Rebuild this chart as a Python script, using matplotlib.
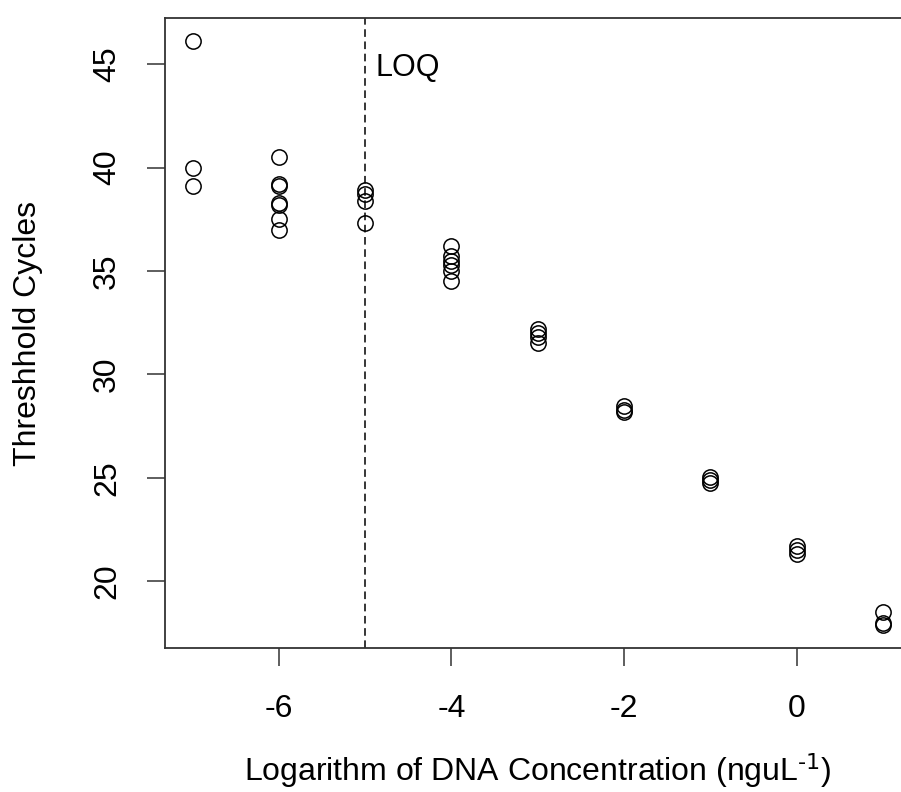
import matplotlib
matplotlib.use('Agg')
import matplotlib.pyplot as plt

plt.rcParams['font.family'] = ['Liberation Sans', 'DejaVu Sans']
plt.rcParams['mathtext.default'] = 'regular'

# log10 DNA concentration for each group of replicates
log_conc = [-7, -6, -5, -4, -3, -2, -1, 0, 1]
# threshold cycles, one list per concentration
ct_values = [
    [46.1, 40.0, 39.1],
    [40.5, 39.2, 39.1, 38.3, 38.2, 37.5, 37.0],
    [38.9, 38.7, 38.4, 37.3],
    [36.2, 35.7, 35.5, 35.3, 35.0, 34.5],
    [32.2, 32.0, 31.8, 31.5],
    [28.45, 28.3, 28.2],
    [25.05, 24.9, 24.75],
    [21.7, 21.5, 21.3],
    [18.5, 18.0, 17.9],
]
loq_x = -5
x_ticks = [-6, -4, -2, 0]
y_ticks = [20, 25, 30, 35, 40, 45]

FIG_W_PX = 901
FIG_H_PX = 792
DPI = 100
FONT_SIZE = 23

xs = []
ys = []
for conc, cts in zip(log_conc, ct_values):
    for ct in cts:
        xs.append(conc)
        ys.append(ct)

fig = plt.figure(figsize=(FIG_W_PX / DPI, FIG_H_PX / DPI), dpi=DPI)
# axes box runs past the right edge, like the cropped original
ax = fig.add_axes([165 / FIG_W_PX, 1 - 648 / FIG_H_PX,
                   745.5 / FIG_W_PX, 630 / FIG_H_PX])

ax.plot(xs, ys, linestyle='none', marker='o', markersize=11,
        markerfacecolor='none', markeredgecolor='black',
        markeredgewidth=1.1)

ax.axvline(loq_x, color='black', linewidth=1.1, linestyle=(0, (5, 3)))
ax.text(loq_x + 0.12, 44.8, 'LOQ', fontsize=22, ha='left', va='center')

# R style default limits: data range plus 4 percent
x_span = max(xs) - min(xs)
y_span = max(ys) - min(ys)
ax.set_xlim(min(xs) - 0.04 * x_span, max(xs) + 0.04 * x_span)
ax.set_ylim(min(ys) - 0.04 * y_span, max(ys) + 0.04 * y_span)

ax.set_xticks(x_ticks)
ax.set_yticks(y_ticks)
ax.set_xticklabels([str(t) for t in x_ticks])
ax.set_yticklabels([str(t) for t in y_ticks], rotation=90, va='center')
ax.tick_params(axis='both', length=13, width=1.1, labelsize=FONT_SIZE,
               color='#333333')
ax.tick_params(axis='x', pad=20)
ax.tick_params(axis='y', pad=18)

for spine in ax.spines.values():
    spine.set_linewidth(1.3)
    spine.set_color('#333333')
ax.spines['right'].set_visible(False)

ax.set_xlabel(r'Logarithm of DNA Concentration (nguL$^{\text{-1}}$)',
              fontsize=FONT_SIZE, va='center')
ax.xaxis.set_label_coords(0.5, (648 - 770) / 630)
ax.set_ylabel('Threshhold Cycles', fontsize=FONT_SIZE, va='center')
ax.yaxis.set_label_coords((28 - 165) / 745.5, 0.5)

fig.savefig('out.png', dpi=DPI)
